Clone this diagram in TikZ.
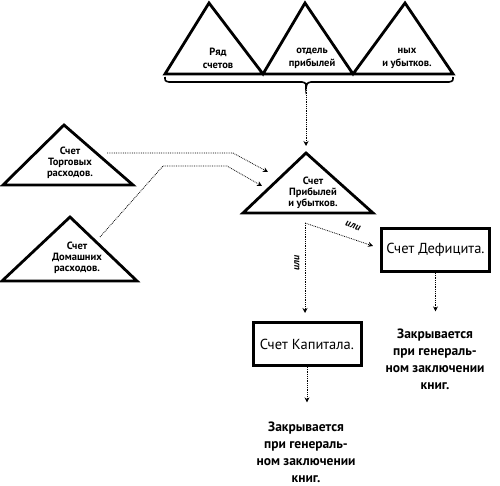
\documentclass[tikz,border=0pt]{standalone}
\usepackage{fontspec}
\setmainfont{PT Sans}
\usetikzlibrary{arrows.meta}
\begin{document}
\begin{tikzpicture}[x=1pt,y=-1pt,
 tri/.style={draw, line width=2.8pt, line join=miter},
 tlabel/.style={font=\fontsize{10.5}{11}\selectfont\bfseries, align=center, inner sep=0pt},
 toplabel/.style={font=\fontsize{10.5}{13}\selectfont\bfseries, align=center, inner sep=0pt},
 box/.style={draw, line width=3pt, minimum width=108pt, minimum height=43pt, font=\fontsize{14.5}{16}\selectfont, inner sep=2pt},
 note/.style={font=\fontsize{13.5}{17}\selectfont\bfseries, align=center, inner sep=0pt},
 conn/.style={densely dotted, line width=0.8pt, -{Stealth[length=5pt,width=5pt]}},
 orl/.style={font=\fontsize{10}{10}\selectfont\bfseries\itshape, inner sep=0pt}]
\useasboundingbox (0,0) rectangle (500,486);

% top row of triangles
\draw[tri] (165,74) -- (209,3) -- (263,74) -- (305,3) -- (353,74) -- (405,3) -- (453,74) -- cycle;
\node[toplabel] (t1) at (218,58) {Ряд\\счетов};
\node[toplabel] (t2) at (312,58) {отдель\\прибылей};
\node[toplabel] (t3) at (407,58) {ных\\и убытков.};

% brace
\draw[line width=1.6pt] (165,77) .. controls (165,81) .. (169,82) -- (302,82) .. controls (306,83) .. (306,88) .. controls (307,83) .. (311,82) -- (449,82) .. controls (453,81) .. (453,77);
\coordinate (bracetip) at (306,88);

% Profit and loss triangle
\draw[tri] (243,213) -- (306,153) -- (373,213) -- cycle;
\coordinate (plapex) at (306,146);
\node[tlabel] (pl) at (313,193) {Счет\\Прибылей\\и убытков.};

% trade expenses triangle
\draw[tri] (3,185) -- (64,125) -- (133,185) -- cycle;
\node[tlabel] (tr) at (70,163) {Счет\\Торговых\\расходов.};

% household expenses triangle
\draw[tri] (2,281) -- (70,217) -- (137,281) -- cycle;
\node[tlabel] (dm) at (77,258) {Счет\\Домашних\\расходов.};

% boxes
\node[box] (def) at (435.5,250) {Счет Дефицита.};
\node[box] (kap) at (307,344) {Счет Капитала.};

% notes
\node[note] (n1) at (435,359) {Закрывается\\при генераль-\\ном заключении\\книг.};
\node[note] (n2) at (306,452) {Закрывается\\при генераль-\\ном заключении\\книг.};

% connector coordinates
\coordinate (trout) at (107,153);
\coordinate (trin) at (268,172);
\coordinate (dmout) at (100,237);
\coordinate (dmin) at (262,186);
\coordinate (split) at (305,223);
\coordinate (defin) at (373,246);

\draw[conn] (bracetip) -- (plapex);
\draw[conn] (trout) -- (233,153) -- (trin);
\draw[conn] (dmout) -- (163,166) -- (227,166) -- (dmin);
\draw[conn] (split) -- (defin);
\draw[conn, shorten >=8pt] (split) -- (split |- kap.north);
\draw[conn, shorten >=17pt] (def.south) -- (n1.north -| def.south);
\draw[conn, shorten >=19pt] (kap.south) -- (n2.north -| kap.south);

\node[orl, rotate=-19] (or1) at (353,226) {или};
\node[orl, rotate=90] (or2) at (297,263) {или};
\end{tikzpicture}
\end{document}
